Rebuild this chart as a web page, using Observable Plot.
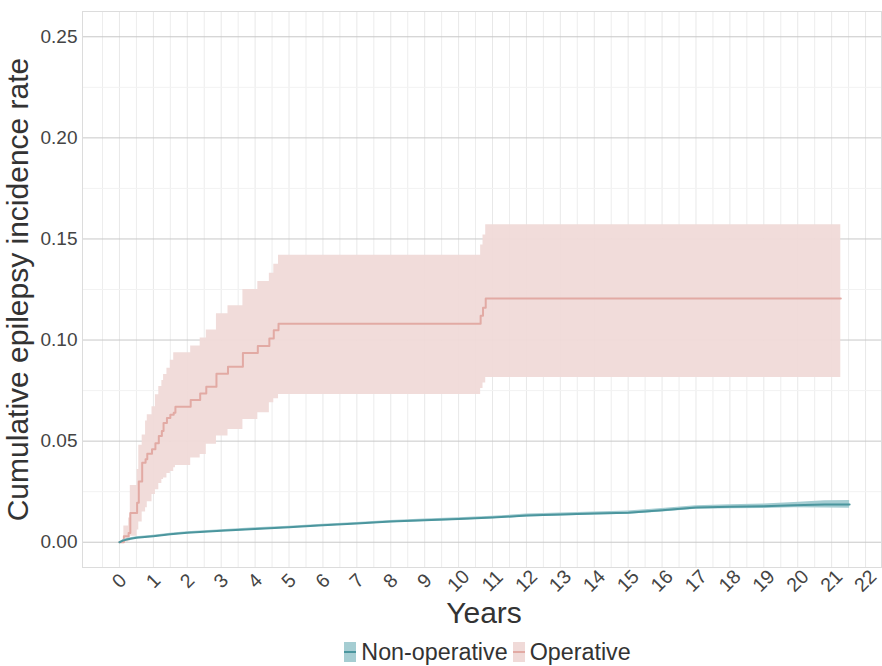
<!DOCTYPE html>
<html><head><meta charset="utf-8">
<script src="https://cdn.jsdelivr.net/npm/d3@7"></script>
<script src="https://cdn.jsdelivr.net/npm/@observablehq/plot@0.6"></script>
<style>
body{margin:0;background:#fff;font-family:"Liberation Sans",Arial,sans-serif;}
#legend{display:flex;justify-content:center;align-items:center;height:44px;font-size:23.3px;color:#333;padding-left:98px;box-sizing:border-box;width:882px}
.key{display:inline-block;width:12px;height:20px;position:relative;margin-right:5px}
.key i{position:absolute;left:0;right:0;top:9px;height:2px}
.item{display:flex;align-items:center;margin-right:5px}
</style></head><body><div id="chart"></div><div id="legend"></div>
<script>
// Operative group (step function): time, estimate, lower CI, upper CI
const opTime = [0, 0.13, 0.27, 0.32, 0.52, 0.57, 0.67, 0.77, 0.82, 0.96, 1.06, 1.16, 1.25, 1.3, 1.4, 1.5, 1.6, 1.65, 2.1, 2.38, 2.56, 2.86, 3.2, 3.64, 4.08, 4.42, 4.55, 4.69, 10.65, 10.72, 10.8, 21.27];
const opEst  = [0, 0.003, 0.0046, 0.0145, 0.0195, 0.030, 0.0393, 0.041, 0.0437, 0.046, 0.049, 0.0525, 0.055, 0.059, 0.0615, 0.063, 0.064, 0.067, 0.0703, 0.0736, 0.0769, 0.0833, 0.0868, 0.0936, 0.097, 0.1008, 0.1048, 0.108, 0.112, 0.116, 0.1205, 0.1205];
const opLo   = [0, 0.0, 0.0005, 0.003, 0.006, 0.010, 0.015, 0.017, 0.02, 0.0236, 0.026, 0.029, 0.031, 0.0318, 0.034, 0.035, 0.0368, 0.038, 0.0417, 0.0434, 0.0484, 0.0525, 0.0558, 0.0607, 0.064, 0.069, 0.071, 0.0731, 0.076, 0.0788, 0.0815, 0.0815];
const opHi   = [0, 0.008, 0.012, 0.028, 0.036, 0.048, 0.053, 0.06, 0.063, 0.067, 0.073, 0.077, 0.08, 0.083, 0.086, 0.09, 0.0937, 0.0937, 0.097, 0.101, 0.105, 0.113, 0.117, 0.125, 0.129, 0.133, 0.1375, 0.142, 0.147, 0.152, 0.157, 0.157];

// Non-operative group
const nonTime = [0, 0.1, 0.25, 0.5, 1, 1.5, 2, 3, 4, 5, 6, 7, 8, 9, 10, 11, 12, 13, 14, 15, 16, 17, 18, 19, 19.9, 20.8, 21.53];
const nonEst  = [0, 0.0008, 0.0015, 0.0022, 0.003, 0.0039, 0.0047, 0.0057, 0.0066, 0.0074, 0.0084, 0.0093, 0.0102, 0.0109, 0.0115, 0.0122, 0.0132, 0.0137, 0.0142, 0.0146, 0.0158, 0.0172, 0.0175, 0.0178, 0.0183, 0.0187, 0.0187];
const nonLo   = [0, 0.0004, 0.001, 0.0017, 0.0025, 0.0034, 0.0042, 0.0052, 0.0061, 0.0069, 0.0079, 0.0088, 0.0096, 0.0103, 0.0109, 0.0116, 0.0125, 0.013, 0.0135, 0.0138, 0.0149, 0.0163, 0.0165, 0.0167, 0.017, 0.0169, 0.0168];
const nonHi   = [0, 0.0012, 0.002, 0.0027, 0.0035, 0.0044, 0.0052, 0.0062, 0.0071, 0.0079, 0.0089, 0.0098, 0.0108, 0.0115, 0.0121, 0.0128, 0.0139, 0.0144, 0.0149, 0.0154, 0.0167, 0.0181, 0.0185, 0.0189, 0.0196, 0.0205, 0.0206];

const xMajor = d3.range(0, 23);
const xMinor = d3.range(-0.5, 22.5, 1);
const yMajor = [0, 0.05, 0.10, 0.15, 0.20, 0.25];
const yMinor = [0.025, 0.075, 0.125, 0.175, 0.225];
const yTickLabels = ["0.00", "0.05", "0.10", "0.15", "0.20", "0.25"];
const groups = ["Non-operative", "Operative"];
const lineColors = ["#4b969e", "#e2aaa4"];
const fillColors = ["#a5cdd2", "#f0dad8"];

const op = opTime.map((t, i) => ({t, est: opEst[i], lo: opLo[i], hi: opHi[i]}));
const non = nonTime.map((t, i) => ({t, est: nonEst[i], lo: nonLo[i], hi: nonHi[i]}));

const chart = Plot.plot({
  width: 882, height: 630,
  marginLeft: 82, marginRight: 1, marginTop: 11, marginBottom: 63,
  style: {fontFamily: '"Liberation Sans", Arial, sans-serif', background: "#fff"},
  x: {domain: [-1.09, 22.47], axis: null},
  y: {domain: [-0.0125, 0.2625]},
  marks: [
    Plot.gridX(xMinor, {stroke: "#ededed", strokeOpacity: 1}),
    Plot.gridX(xMajor, {stroke: "#e8e8e8", strokeOpacity: 1}),
    Plot.gridY(yMinor, {stroke: "#f2f2f2", strokeOpacity: 1}),
    Plot.gridY(yMajor, {stroke: "#c8c8c8", strokeOpacity: 1}),
    Plot.frame({stroke: "#dcdcdc"}),
    Plot.areaY(op, {x: "t", y1: "lo", y2: "hi", curve: "step-after", fill: fillColors[1], fillOpacity: 0.95}),
    Plot.lineY(op, {x: "t", y: "est", curve: "step-after", stroke: lineColors[1], strokeWidth: 2}),
    Plot.areaY(non, {x: "t", y1: "lo", y2: "hi", fill: fillColors[0]}),
    Plot.lineY(non, {x: "t", y: "est", stroke: lineColors[0], strokeWidth: 2}),
    Plot.axisY(yMajor, {tickSize: 0, tickPadding: 5, fontSize: 19, fill: "#444", tickFormat: (d, i) => yTickLabels[i], label: null}),
    Plot.text(xMajor, {x: d => d, text: d => String(d), frameAnchor: "bottom", lineAnchor: "middle", textAnchor: "middle", dy: 13.5, rotate: -45, fontSize: 19.5, fill: "#444"}),
    Plot.text(["Cumulative epilepsy incidence rate"], {text: d => d, frameAnchor: "left", textAnchor: "middle", lineAnchor: "middle", dx: -64, rotate: -90, fontSize: 30, fill: "#333"}),
    Plot.text(["Years"], {text: d => d, frameAnchor: "bottom", textAnchor: "middle", lineAnchor: "middle", dx: 2, dy: 45.5, fontSize: 30, fill: "#333"})
  ]
});
document.getElementById("chart").appendChild(chart);

const legend = document.getElementById("legend");
groups.forEach((g, i) => {
  const item = document.createElement("div");
  item.className = "item";
  item.innerHTML = `<span class="key" style="background:${fillColors[i]}"><i style="background:${lineColors[i]}"></i></span><span>${g}</span>`;
  legend.appendChild(item);
});
</script></body></html>
